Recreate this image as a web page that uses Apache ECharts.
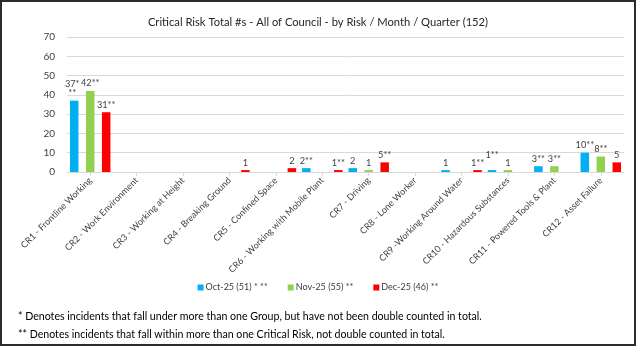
<!DOCTYPE html>
<html><head><meta charset="utf-8">
<script src="https://cdn.jsdelivr.net/npm/echarts@6/dist/echarts.min.js"></script>
<style>
html,body{margin:0;padding:0;background:#fff;}
#wrap{position:relative;width:636px;height:346px;}
#chart{position:absolute;left:0;top:0;width:636px;height:346px;}
#frame{position:absolute;left:0;top:0;width:636px;height:346px;box-sizing:border-box;border:2px solid #2b2b2b;pointer-events:none;}
</style></head>
<body>
<div id="wrap"><div id="chart"></div><div id="frame"></div></div>
<script>
const categories = ['CR1 - Frontline Working','CR2 - Work Environment','CR3 - Working at Height','CR4 - Breaking Ground','CR5 - Confined Space','CR6 - Working with Mobile Plant','CR7 - Driving','CR8 - Lone Worker','CR9 -Working Around Water','CR10 - Hazardous Substances','CR11 - Powered Tools & Plant','CR12 - Asset Failure'];
const seriesNames = ['Oct-25 (51) * **','Nov-25 (55) **','Dec-25 (46) **'];
const octValues = [37,null,null,null,null,2,2,null,1,1,3,10];
const novValues = [42,null,null,null,null,null,1,null,null,1,3,8];
const decValues = [31,null,null,1,2,1,5,null,1,null,null,5];
const octLabels = ['37*\n**','','','','','2**','2','','1','1**','3**','10**'];
const novLabels = ['42**','','','','','','1','','','1','3**','8**'];
const decLabels = ['31**','','','1','2','1**','5**','','1**','','','5'];
const yTicks = [0,10,20,30,40,50,60,70];
const titleText = 'Critical Risk Total #s - All of Council - by Risk / Month / Quarter (152)';
const footnotes = ['* Denotes incidents that fall under more than one Group, but have not been double counted in total.','** Denotes incidents that fall within more than one Critical Risk, not double counted in total.'];

const colors = ['#00b0f0','#92d050','#ff0000'];
const FONT = 'Lato';
function mk(values, labels, name, color, offsets){
  return {
    name, type:'bar', barWidth:8.5, barGap:'88%',
    itemStyle:{color},
    data: values.map((v,i)=>{
      const d={value:v};
      if(offsets && offsets[i]) d.label={offset:offsets[i]};
      return d;
    }),
    label:{show:true, position:'top', distance:3, color:'#404040', fontFamily:FONT, fontSize:9.2, lineHeight:9,
      formatter:p=>labels[p.dataIndex]||''}
  };
}
const octOffsets = {0:[-2,0], 9:[0,-8]};
const chart = echarts.init(document.getElementById('chart'), null, {renderer:'canvas'});
chart.setOption({
  animation:false,
  backgroundColor:'#fff',
  title:{text:titleText, left:'center', top:12, textStyle:{fontFamily:FONT, fontSize:11.2, fontWeight:'normal', color:'#262626'}},
  grid:{left:67, right:12, top:37, bottom:174},
  legend:{bottom:49, left:'center', itemWidth:6, itemHeight:6, itemGap:20, icon:'rect',
    textStyle:{fontFamily:FONT, fontSize:9, color:'#404040', padding:[0,0,0,-3]}},
  xAxis:{type:'category', data:categories,
    axisLine:{lineStyle:{color:'#d9d9d9'}},
    axisTick:{show:true, alignWithLabel:true, length:4, lineStyle:{color:'#d9d9d9'}},
    axisLabel:{rotate:45, interval:0, color:'#404040', fontFamily:FONT, fontSize:9, margin:7}},
  yAxis:{type:'value', min:yTicks[0], max:yTicks[yTicks.length-1], interval:10,
    axisLine:{show:false}, axisTick:{show:false},
    splitLine:{lineStyle:{color:'#d9d9d9'}},
    axisLabel:{color:'#404040', fontFamily:FONT, fontSize:10, margin:12}},
  series:[mk(octValues,octLabels,seriesNames[0],colors[0],octOffsets), mk(novValues,novLabels,seriesNames[1],colors[1]), mk(decValues,decLabels,seriesNames[2],colors[2])],
  graphic:[
    {type:'text', left:18, top:311, style:{text:footnotes[0], fontFamily:FONT, fontSize:10.6, fill:'#000'}},
    {type:'text', left:18, top:329, style:{text:footnotes[1], fontFamily:FONT, fontSize:10.6, fill:'#000'}}
  ]
});
</script>
</body></html>
